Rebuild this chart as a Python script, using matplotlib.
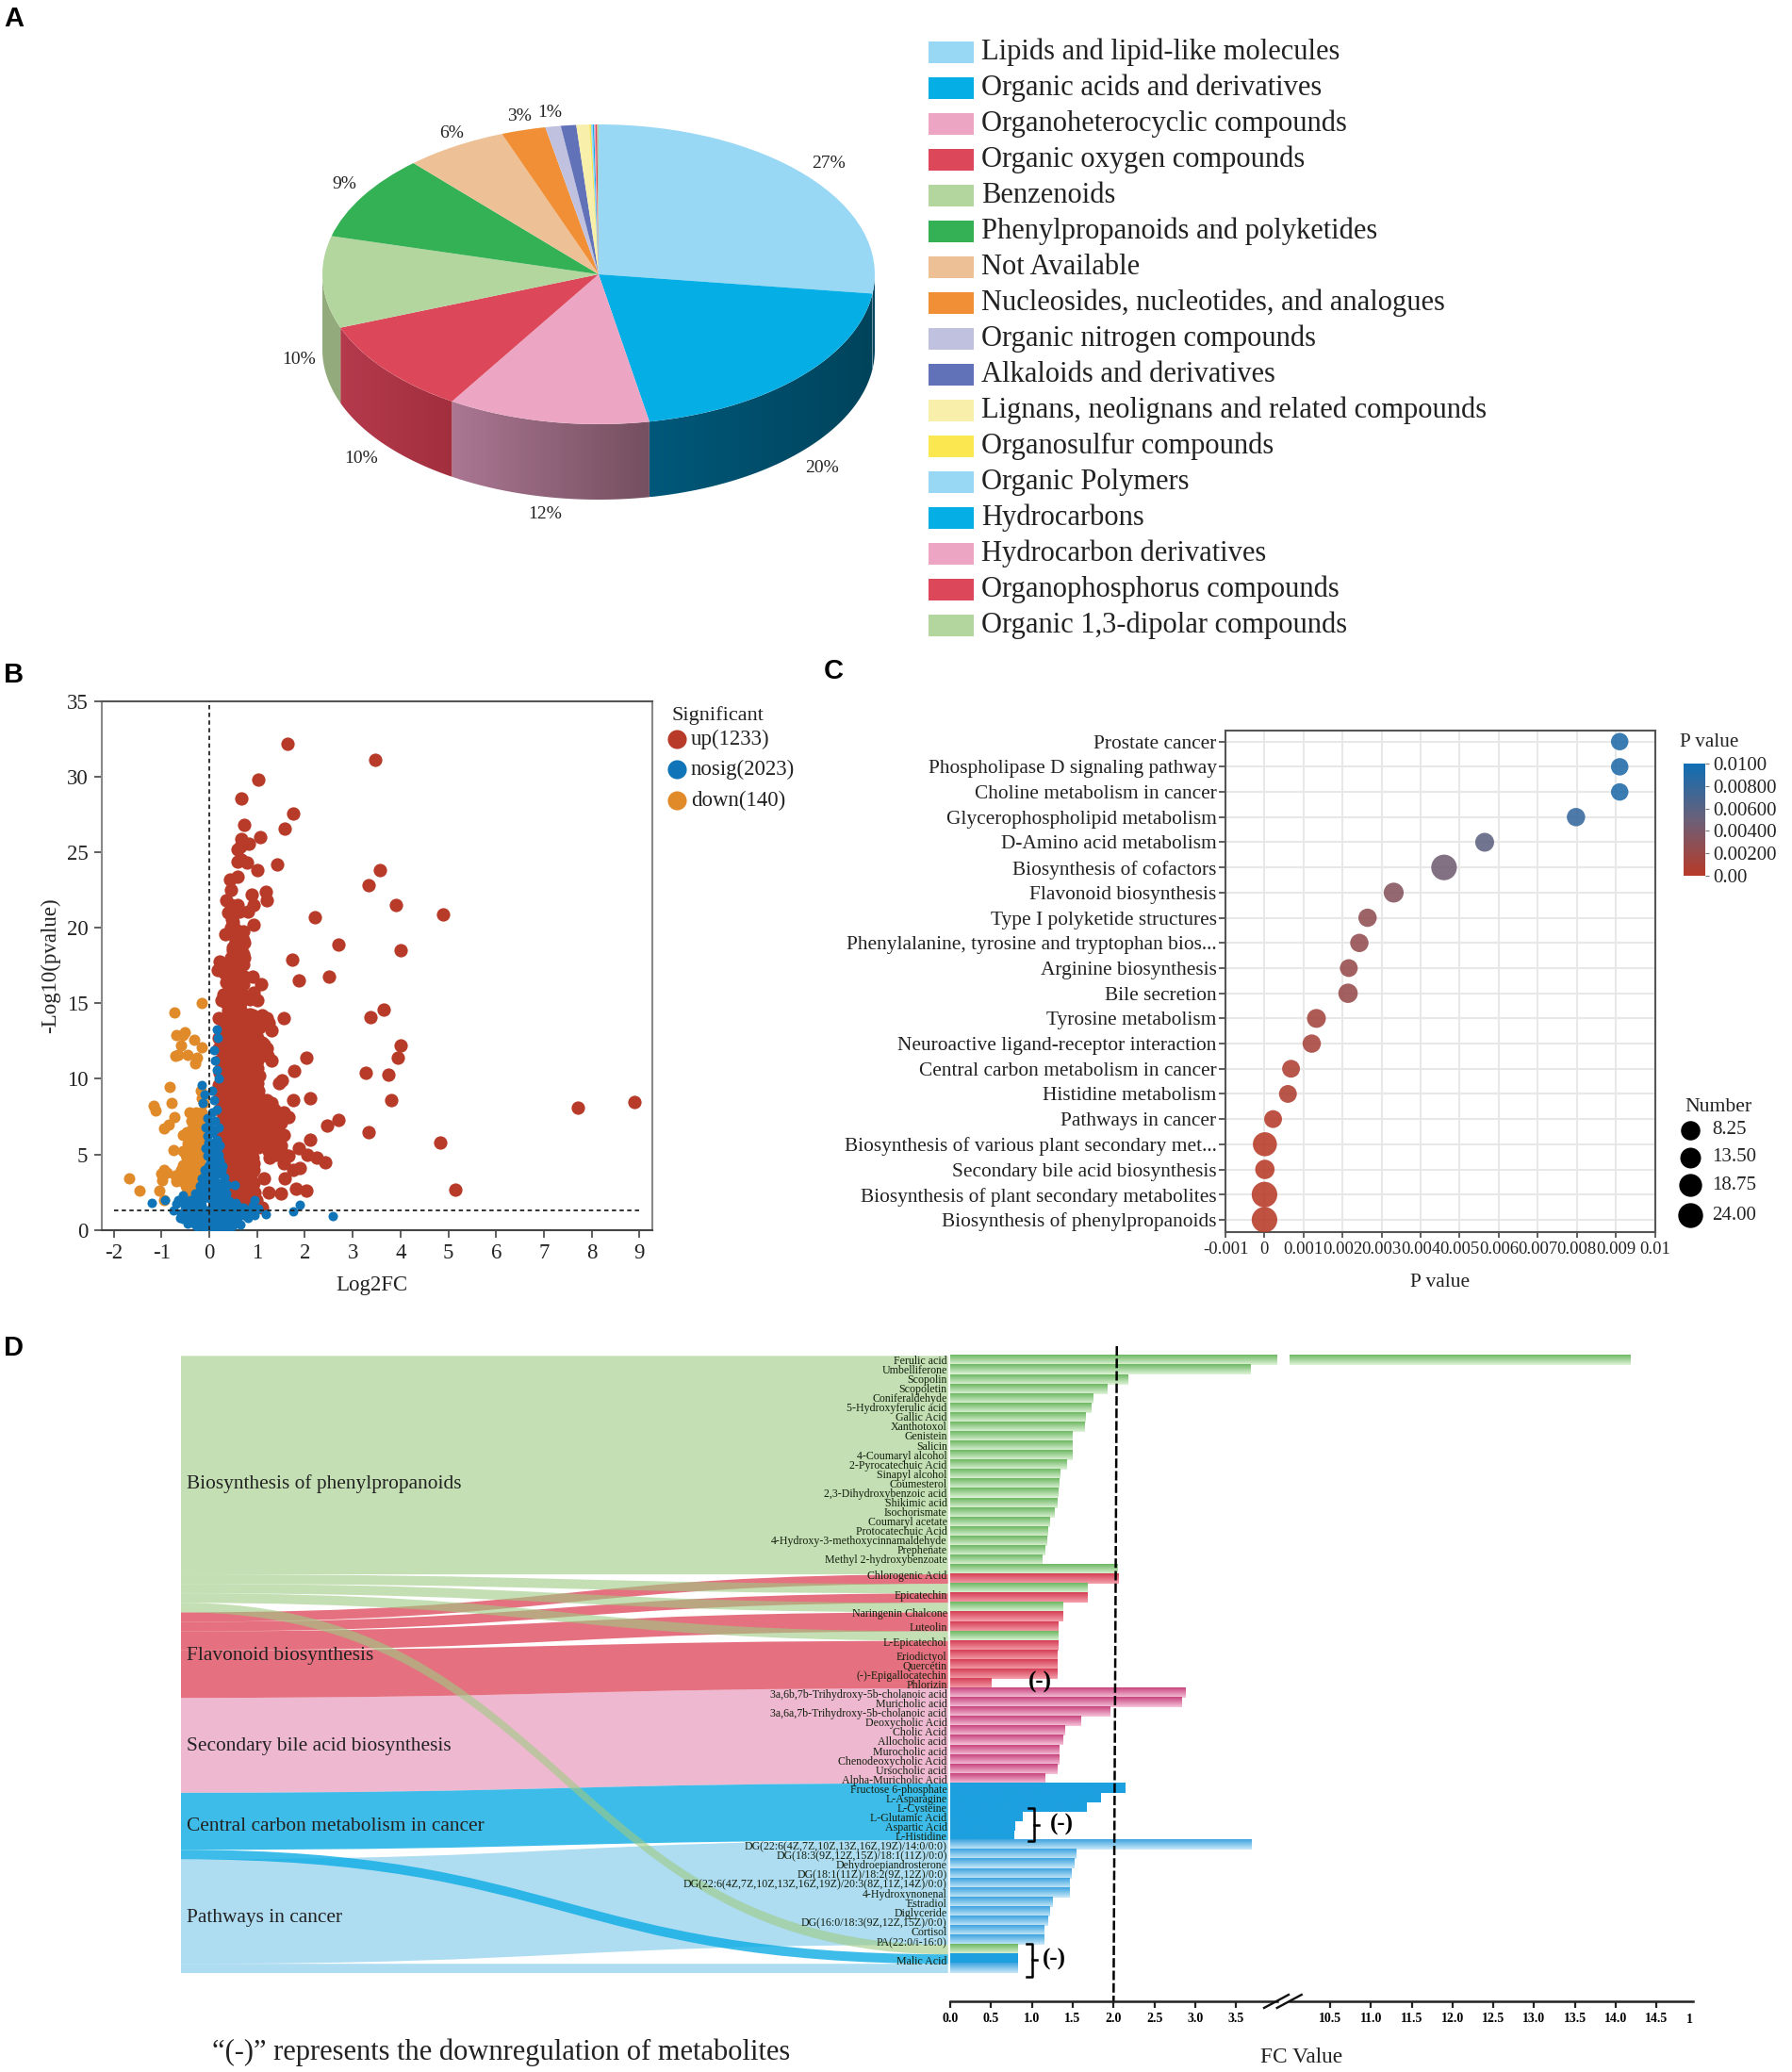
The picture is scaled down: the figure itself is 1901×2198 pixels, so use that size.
import numpy as np
import matplotlib
matplotlib.use('Agg')
import matplotlib.pyplot as plt
from matplotlib.colors import LinearSegmentedColormap, Normalize
from matplotlib.cm import ScalarMappable
from matplotlib.patches import Polygon, PathPatch
from matplotlib.path import Path

plt.rcParams['font.family'] = ['Liberation Serif', 'DejaVu Serif']
plt.rcParams['axes.unicode_minus'] = False

W, H = 1901, 2198

# A - pie
classes = ['Lipids and lipid-like molecules', 'Organic acids and derivatives', 'Organoheterocyclic compounds',
           'Organic oxygen compounds', 'Benzenoids', 'Phenylpropanoids and polyketides', 'Not Available',
           'Nucleosides, nucleotides, and analogues', 'Organic nitrogen compounds', 'Alkaloids and derivatives',
           'Lignans, neolignans and related compounds', 'Organosulfur compounds', 'Organic Polymers',
           'Hydrocarbons', 'Hydrocarbon derivatives', 'Organophosphorus compounds', 'Organic 1,3-dipolar compounds']
class_pct = [27.05, 20.0, 11.85, 10.3, 9.9, 9.2, 6.0, 2.6, 0.9, 0.9, 0.75, 0.1, 0.1, 0.08, 0.08, 0.1, 0.08]
class_colors = ['#99d8f4', '#05aee5', '#eca5c3', '#dc4759', '#b3d69f', '#35b155', '#eec095', '#f08f36', '#bfc1df',
                '#6272b8', '#f8efaa', '#fbe74f', '#99d8f4', '#05aee5', '#eca5c3', '#dc4759', '#b3d69f']
side_left = ['#00455f', '#00587a', '#aa7692', '#b43a4c', '#93ab7c']
side_right = ['#00455f', '#00445c', '#755060', '#a22f3e', '#93ab7c']
pie_labels = ['27%', '20%', '12%', '10%', '10%', '9%', '6%', '3%', '1%']

# B - volcano
up_x = [1.64, 3.47, 1.02, 0.66, 1.76, 0.73, 1.57, 1.07, 0.66, 0.83, 0.64, 0.6, 0.6, 0.66, 0.78, 1.42, 1.0, 3.57, 0.6, 0.44,
        0.46, 1.18, 3.33, 0.88, 1.2, 0.36, 0.45, 0.6, 0.93, 3.9, 0.4, 0.63, 0.8, 2.2, 4.9, 0.5, 0.45, 0.92, 0.33, 0.65,
        0.55, 0.72, 2.7, 0.5, 4.0, 0.6, 0.7, 0.55, 1.74, 0.22, 0.7, 0.3, 0.6, 0.18, 0.45, 0.9, 2.5, 0.55, 1.87, 0.35,
        0.7, 1.08, 0.6, 0.5, 0.92, 0.3, 0.72, 0.85, 0.25, 1.0, 0.55,
        0.9, 1.1, 0.5, 0.2, 0.35, 0.6, 0.78, 1.55, 1.0, 1.2, 0.45, 0.7, 0.95, 1.25, 0.3, 0.55, 0.8, 1.05,
        0.25, 0.5, 0.68, 0.9, 1.3, 0.2, 0.4, 0.62, 0.85, 0.27, 0.5, 0.72, 0.95, 1.15, 0.2, 0.42, 0.6, 0.82, 1.05, 1.2,
        0.3, 0.52, 0.75, 0.95, 1.18, 0.22, 0.45, 0.65, 0.88, 1.3, 2.03, 0.3, 0.55, 0.72, 0.95,
        0.22, 0.42, 0.62, 0.85, 1.78, 0.3, 0.5, 0.72, 0.92, 1.05, 0.2, 0.42, 0.62, 0.8, 1.45, 1.52,
        0.3, 0.52, 0.72, 0.9, 0.22, 0.42, 0.62, 0.85, 1.05, 0.3, 0.52, 0.72, 0.95, 1.3, 1.75, 2.1, 3.8,
        0.22, 0.42, 0.62, 0.85, 1.05, 1.25, 1.35, 0.3, 0.52, 0.72, 0.95, 1.15, 1.4, 1.55,
        0.25, 0.45, 0.65, 0.88, 1.1, 1.3, 1.65, 2.7, 0.32, 0.52, 0.75, 0.95, 1.2, 1.4, 2.47,
        0.25, 0.45, 0.65, 0.85, 1.05, 1.3, 1.55, 3.33, 0.32, 0.52, 0.72, 0.92, 1.15, 1.4, 2.1,
        0.28, 0.48, 0.68, 0.9, 1.25, 1.5, 4.83, 0.32, 0.52, 0.72, 0.88, 1.25, 1.5, 1.87,
        0.35, 0.55, 0.75, 0.9, 1.27, 1.65, 2.05, 2.25, 2.43, 0.38, 0.58, 0.78, 0.92, 1.55,
        0.4, 0.6, 0.8, 0.92, 1.75, 1.9, 0.42, 0.62, 0.82, 1.15, 1.58,
        0.45, 0.65, 0.85, 0.5, 0.7, 0.9, 1.25, 1.5, 1.82, 2.03, 5.15, 0.6, 0.8, 0.98, 1.1,
        7.72, 8.9, 3.65, 3.38, 4.0, 3.95, 3.27, 3.75,
        0.35, 0.5, 0.65, 0.4, 0.6, 0.42, 0.55, 0.4, 0.5, 0.62, 0.72, 0.32, 0.38, 0.5, 0.62, 0.45, 0.6, 0.72, 0.5, 0.66,
        0.55, 0.7, 0.62, 0.55, 0.48, 0.7,
        0.4, 0.65, 0.85, 0.33, 0.58, 0.83, 0.38, 0.6, 0.78, 1.0, 0.33, 0.58, 0.82, 1.1, 0.36, 0.62, 0.85, 0.35, 0.58, 0.78,
        1.0, 1.22, 0.38, 0.55, 0.78, 1.0, 0.35, 0.6, 0.82, 1.0, 0.38, 0.62, 0.82, 1.03, 0.33, 0.52, 0.75, 0.95, 1.2, 0.35,
        0.55, 0.75, 0.95, 1.15, 0.4, 0.62, 0.85, 1.05, 1.3, 1.5, 0.37, 0.58, 0.8, 1.0, 1.25, 1.5, 0.35, 0.55, 0.75, 0.95,
        1.18, 1.45, 0.38, 0.6, 0.8, 1.0, 1.3, 0.38, 0.6, 0.8, 1.02, 1.4, 0.45, 0.65, 0.85, 1.4, 0.47, 0.68, 0.85, 0.5, 0.7,
        0.88, 0.52, 0.72, 0.92, 0.55, 0.75, 0.95, 0.7, 0.9, 1.0]
up_y = [32.2, 31.1, 29.8, 28.6, 27.6, 26.8, 26.6, 26.0, 25.9, 25.6, 25.4, 25.2, 24.4, 24.5, 24.3, 24.2, 23.8, 23.8, 23.4, 23.2,
        22.5, 22.4, 22.8, 22.2, 21.8, 21.8, 21.5, 21.5, 21.5, 21.5, 21.0, 21.1, 21.1, 20.7, 20.9, 20.4, 20.0, 20.2, 19.6, 19.5,
        19.2, 19.0, 18.9, 18.7, 18.5, 18.6, 18.3, 18.1, 17.9, 17.8, 17.6, 17.5, 17.3, 17.2, 17.2, 16.8, 16.8, 16.6, 16.5, 16.4,
        16.3, 16.3, 16.0, 15.8, 15.7, 15.6, 15.5, 15.3, 15.2, 15.2, 15.1,
        14.2, 14.2, 14.3, 14.0, 14.0, 14.0, 14.0, 14.0, 14.0, 14.0, 13.7, 13.7, 13.7, 13.7, 13.4, 13.4, 13.4, 13.4,
        13.1, 13.1, 13.1, 13.1, 13.2, 12.7, 12.7, 12.7, 12.7, 12.3, 12.3, 12.3, 12.3, 12.3, 12.0, 12.0, 12.0, 12.0, 12.0, 12.0,
        11.6, 11.6, 11.6, 11.6, 11.6, 11.2, 11.2, 11.2, 11.2, 11.2, 11.4, 10.8, 10.8, 10.8, 10.8,
        10.4, 10.4, 10.4, 10.4, 10.5, 10.0, 10.0, 10.0, 10.0, 10.2, 9.6, 9.6, 9.6, 9.6, 9.7, 9.9,
        9.2, 9.2, 9.2, 9.2, 8.8, 8.8, 8.8, 8.8, 8.8, 8.4, 8.4, 8.4, 8.4, 8.4, 8.6, 8.7, 8.6,
        8.0, 8.0, 8.0, 8.0, 8.0, 8.1, 8.0, 7.6, 7.6, 7.6, 7.6, 7.6, 7.6, 7.8,
        7.2, 7.2, 7.2, 7.2, 7.2, 7.2, 7.5, 7.3, 6.8, 6.8, 6.8, 6.8, 6.8, 6.8, 6.9,
        6.4, 6.4, 6.4, 6.4, 6.4, 6.4, 6.3, 6.5, 6.0, 6.0, 6.0, 6.0, 6.0, 6.0, 6.0,
        5.6, 5.6, 5.6, 5.6, 5.6, 5.6, 5.8, 5.2, 5.2, 5.2, 5.2, 5.2, 5.3, 5.4,
        4.8, 4.8, 4.8, 4.8, 4.8, 4.9, 5.0, 4.8, 4.5, 4.4, 4.4, 4.4, 4.4, 4.4,
        4.0, 4.0, 4.0, 4.0, 4.0, 4.1, 3.5, 3.5, 3.5, 3.4, 3.4,
        3.0, 3.0, 3.0, 2.6, 2.6, 2.6, 2.5, 2.4, 2.7, 2.6, 2.65, 2.0, 2.0, 2.0, 1.5,
        8.1, 8.45, 14.6, 14.1, 12.2, 11.4, 10.4, 10.3,
        15.0, 15.4, 15.0, 15.8, 15.8, 16.2, 16.2, 16.8, 17.0, 16.9, 16.8, 17.0, 17.5, 17.6, 17.7, 18.0, 18.0, 18.0, 18.5, 18.7,
        19.0, 19.2, 19.6, 19.9, 20.6, 19.8,
        14.5, 14.6, 14.3, 13.9, 13.6, 13.8, 13.0, 12.9, 12.9, 12.7, 12.4, 12.3, 12.5, 12.4, 11.8, 11.7, 11.8, 11.1, 11.0, 11.0,
        11.2, 11.5, 10.5, 10.5, 10.4, 10.7, 9.9, 9.9, 9.9, 9.7, 9.3, 9.4, 9.3, 9.2, 8.7, 8.7, 8.8, 8.7, 8.6, 8.1,
        8.2, 8.1, 8.1, 8.3, 7.5, 7.5, 7.5, 7.5, 7.7, 7.5, 7.0, 7.0, 7.0, 7.0, 7.2, 7.1, 6.6, 6.6, 6.6, 6.6,
        6.5, 6.5, 6.2, 6.2, 6.2, 6.2, 6.0, 5.4, 5.4, 5.4, 5.5, 5.6, 4.9, 5.0, 5.0, 5.0, 4.4, 4.5, 4.5, 3.8, 3.8,
        3.8, 3.2, 3.2, 3.1, 2.4, 2.4, 2.5, 2.0, 1.8, 1.6]
nosig_x = [0.15, 0.18, 0.1, 0.12, 0.15, 0.2, -0.15, -0.1, 0.05, 0.1, 0.15, -0.13, 0.05, -0.05, 0.12, 0.2, -0.08, 0.05, 0.15,
           -0.02, 0.22, 0.08, 0.2, -0.05, 0.02, 0.15, 0.28, -0.1, 0.05, 0.2, 0.32, -0.15, 0.0, 0.12, 0.25, 0.38, 0.54, -0.2,
           -0.05, 0.1, 0.22, 0.35, -0.3, -0.55, -0.18, 0.0, 0.15, 0.28, 0.42, 0.55, -0.65, -0.4, -0.7, -0.52, -0.3, -0.15,
           0.05, 0.2, 0.35, 0.5, 0.7, 0.95, 0.9, 0.78, -0.75, -0.6, -0.4, -0.25, -0.1, 0.05, 0.2, 0.35, 0.5, 0.7, 0.95, 1.18,
           -0.55, -0.35, -0.2, -0.05, 0.1, 0.25, 0.4, 0.55, -0.45, -0.3, -0.15, 0.0, 0.15, 0.3, 0.65, -1.2, -0.92, 1.9, 1.75, 2.58,
           0.0, 0.1, -0.05, 0.1, 0.02, 0.15, -0.08, 0.1, 0.22, -0.02, 0.12, 0.25, -0.08, 0.1, -0.12, 0.03, 0.18, 0.3, -0.22,
           -0.08, 0.06, 0.2, 0.35, -0.3, -0.15, 0.1, 0.25, 0.4, -0.5, -0.4, -0.05, 0.12, 0.28, 0.45, 0.6, -0.5, -0.32, -0.15,
           0.0, 0.15, 0.3, 0.45, 0.6, 0.8, -0.62, -0.42, -0.25, -0.08, 0.08, 0.22, 0.38, 0.5, -0.1, 0.05, 0.2, -0.25, 0.35,
           0.45, 0.1, -0.02, 0.82, 0.65, 1.02, 0.95]
nosig_y = [13.3, 12.7, 11.9, 11.2, 10.6, 10.0, 9.6, 9.0, 9.2, 8.6, 8.0, 8.4, 7.8, 7.4, 7.2, 6.8, 6.8, 6.4, 6.0,
           5.8, 5.6, 5.2, 5.0, 4.9, 4.5, 4.4, 4.2, 4.0, 3.9, 3.7, 3.5, 3.4, 3.3, 3.2, 3.1, 3.0, 3.0, 2.9,
           2.7, 2.6, 2.5, 2.4, 2.4, 2.3, 2.2, 2.1, 2.0, 2.0, 1.9, 1.8, 2.0, 2.0, 1.7, 1.6, 1.6, 1.6,
           1.5, 1.5, 1.4, 1.4, 1.5, 2.0, 1.6, 1.3, 1.3, 1.1, 1.2, 1.1, 1.1, 1.0, 1.0, 0.9, 0.95, 1.0, 0.95, 1.05,
           0.7, 0.7, 0.6, 0.6, 0.55, 0.5, 0.55, 0.6, 0.4, 0.35, 0.3, 0.25, 0.25, 0.3, 0.35, 1.8, 1.95, 1.65, 1.25, 0.9,
           7.0, 6.6, 6.2, 5.8, 5.4, 5.3, 5.4, 4.8, 4.6, 4.2, 4.0, 3.9, 3.7, 3.5, 3.0, 3.0, 2.9, 2.7, 2.5,
           2.4, 2.3, 2.2, 2.1, 2.0, 1.9, 1.8, 1.75, 1.6, 1.9, 1.5, 1.3, 1.25, 1.2, 1.15, 1.1, 1.0, 0.9, 0.85,
           0.8, 0.75, 0.7, 0.75, 0.8, 0.8, 0.8, 0.55, 0.45, 0.4, 0.4, 0.35, 0.35, 0.3, 0.15, 0.1, 0.15, 0.2, 0.15,
           0.2, 0.05, 0.05, 1.1, 1.5, 1.4, 1.2]
down_x = [-0.16, -0.73, -0.7, -0.52, -0.55, -0.32, -0.6, -0.16, -0.72, -0.65, -0.45, -0.25, -0.3, -0.82, -0.18, -0.15, -0.8,
          -0.12, -1.17, -1.12, -0.42, -0.27, -0.15, -0.74, -0.85, -0.32, -0.95, -0.22, -0.55, -0.35, -0.2, -0.48, -0.4, -0.25,
          -0.15, -0.75, -0.55, -0.38, -0.23, -0.12, -0.48, -0.3, -0.18, -0.42, -0.25, -0.95, -0.6, -0.55, -1.0, -0.88, -0.72,
          -0.98, -0.35, -0.2, -0.5, -0.32, -0.65, -1.68, -1.47, -1.05, -0.95, -0.5, -0.3, -0.42, -0.3, -0.42, -0.4, -0.5, -0.28, -0.22,
          -0.3, -0.2, -0.38, -0.28, -0.16, -0.42, -0.32, -0.2, -0.12, -0.45, -0.33, -0.2, -0.5, -0.4, -0.28, -0.15, -0.45, -0.35,
          -0.2, -0.55, -0.48, -0.38, -0.28, -0.42, -0.28, -0.55, -0.42, -0.35, -0.48, -0.38, -0.45, -0.33, -0.7, -0.62, -0.6]
down_y = [15.0, 14.4, 12.9, 13.1, 12.9, 12.6, 12.2, 12.1, 11.5, 11.6, 11.6, 11.4, 11.0, 9.5, 9.2, 8.7, 8.4,
          8.4, 8.2, 7.9, 7.8, 7.8, 7.8, 7.5, 7.0, 7.4, 6.7, 7.2, 6.3, 6.7, 6.6, 6.5, 6.0, 6.0,
          5.9, 5.3, 5.2, 5.4, 5.4, 5.2, 4.8, 4.8, 4.8, 4.3, 4.3, 4.0, 4.0, 3.8, 3.7, 3.8, 3.6,
          3.3, 3.8, 3.8, 3.4, 3.3, 3.5, 3.4, 2.6, 2.6, 2.0, 2.9, 2.7, 2.3, 2.2, 1.7, 1.3, 1.3, 1.7, 3.0,
          7.5, 7.4, 7.2, 7.0, 7.0, 6.3, 6.3, 6.2, 6.4, 5.7, 5.7, 5.7, 5.0, 5.0, 5.1, 5.0, 4.5, 4.5,
          4.5, 4.3, 3.9, 3.9, 3.9, 3.5, 3.4, 3.2, 3.0, 2.6, 2.5, 2.0, 1.5, 1.4, 3.2, 3.8, 3.3]
volcano_xticks = [-2, -1, 0, 1, 2, 3, 4, 5, 6, 7, 8, 9]
volcano_yticks = [0, 5, 10, 15, 20, 25, 30, 35]

# C - bubble
pathways = ['Prostate cancer', 'Phospholipase D signaling pathway', 'Choline metabolism in cancer',
            'Glycerophospholipid metabolism', 'D-Amino acid metabolism', 'Biosynthesis of cofactors',
            'Flavonoid biosynthesis', 'Type I polyketide structures', 'Phenylalanine, tyrosine and tryptophan bios...',
            'Arginine biosynthesis', 'Bile secretion', 'Tyrosine metabolism', 'Neuroactive ligand-receptor interaction',
            'Central carbon metabolism in cancer', 'Histidine metabolism', 'Pathways in cancer',
            'Biosynthesis of various plant secondary met...', 'Secondary bile acid biosynthesis',
            'Biosynthesis of plant secondary metabolites', 'Biosynthesis of phenylpropanoids']
p_values = [0.0091, 0.0091, 0.0091, 0.00798, 0.00564, 0.0046, 0.00331, 0.00264, 0.00243, 0.00216,
            0.00214, 0.00133, 0.00121, 0.00068, 0.0006, 0.00022, 0.00001, 0.00001, 0.0, 0.0]
numbers = [8.25, 8.25, 8.25, 10, 11, 24, 13, 10, 10, 9, 12, 11, 10, 9, 9, 9, 21, 12, 24, 24]
p_ticks = [-0.001, 0, 0.001, 0.002, 0.003, 0.004, 0.005, 0.006, 0.007, 0.008, 0.009, 0.01]
p_ticklabels = ['-0.001', '0', '0.001', '0.002', '0.003', '0.004', '0.005', '0.006', '0.007', '0.008', '0.009', '0.01']
number_legend = [8.25, 13.50, 18.75, 24.00]

# D - sankey and bars
path_names = ['Biosynthesis of phenylpropanoids', 'Flavonoid biosynthesis', 'Secondary bile acid biosynthesis',
              'Central carbon metabolism in cancer', 'Pathways in cancer']
metabolites = ['Ferulic acid', 'Umbelliferone', 'Scopolin', 'Scopoletin', 'Coniferaldehyde', '5-Hydroxyferulic acid',
               'Gallic Acid', 'Xanthotoxol', 'Genistein', 'Salicin', '4-Coumaryl alcohol', '2-Pyrocatechuic Acid',
               'Sinapyl alcohol', 'Coumesterol', '2,3-Dihydroxybenzoic acid', 'Shikimic acid', 'Isochorismate',
               'Coumaryl acetate', 'Protocatechuic Acid', '4-Hydroxy-3-methoxycinnamaldehyde', 'Prephenate',
               'Methyl 2-hydroxybenzoate', '', 'Chlorogenic Acid', '', 'Epicatechin', '', 'Naringenin Chalcone', 'Luteolin',
               '', 'L-Epicatechol', 'Eriodictyol', 'Quercetin', '(-)-Epigallocatechin', 'Phlorizin',
               '3a,6b,7b-Trihydroxy-5b-cholanoic acid', 'Muricholic acid', '3a,6a,7b-Trihydroxy-5b-cholanoic acid',
               'Deoxycholic Acid', 'Cholic Acid', 'Allocholic acid', 'Murocholic acid', 'Chenodeoxycholic Acid',
               'Ursocholic acid', 'Alpha-Muricholic Acid', 'Fructose 6-phosphate', 'L-Asparagine', 'L-Cysteine',
               'L-Glutamic Acid', 'Aspartic Acid', 'L-Histidine', 'DG(22:6(4Z,7Z,10Z,13Z,16Z,19Z)/14:0/0:0)',
               'DG(18:3(9Z,12Z,15Z)/18:1(11Z)/0:0)', 'Dehydroepiandrosterone', 'DG(18:1(11Z)/18:2(9Z,12Z)/0:0)',
               'DG(22:6(4Z,7Z,10Z,13Z,16Z,19Z)/20:3(8Z,11Z,14Z)/0:0)', '4-Hydroxynonenal', 'Estradiol', 'Diglyceride',
               'DG(16:0/18:3(9Z,12Z,15Z)/0:0)', 'Cortisol', '', 'PA(22:0/i-16:0)', 'Malic Acid', '']
fc_values = [14.18, 3.67, 2.18, 1.92, 1.75, 1.72, 1.66, 1.65, 1.50, 1.50, 1.49, 1.43, 1.35, 1.33, 1.32, 1.31, 1.27, 1.22,
             1.19, 1.18, 1.16, 1.13, 2.05, 2.06, 1.68, 1.68, 1.38, 1.38, 1.32, 1.32, 1.32, 1.31, 1.31, 1.31, 0.50,
             2.88, 2.83, 1.96, 1.60, 1.40, 1.38, 1.33, 1.33, 1.31, 1.16, 2.14, 1.84, 1.67, 0.88, 0.79, 0.78,
             3.69, 1.54, 1.52, 1.48, 1.46, 1.46, 1.25, 1.22, 1.19, 1.15, 1.15, 0.82, 0.82, 0.82]
path_of_row = [0] * 22 + [0, 1, 0, 1, 0, 1, 1, 0, 1, 1, 1, 1, 1] + [2] * 10 + [3] * 6 + [4] * 11 + [0, 3, 4]
path_colors = ['#9ecb82', '#d5112a', '#e489b1', '#0cace5', '#78c5e9']
path_alpha = [0.6, 0.6, 0.6, 0.8, 0.6]
bar_top = ['#6fb865', '#d63f56', '#c8467f', '#1da0df', '#3fa4e0']
bar_bottom = ['#dff3d8', '#f3a0ab', '#f6c3da', '#1da0df', '#c8e8f8']
fc_ticks_low = [0.0, 0.5, 1.0, 1.5, 2.0, 2.5, 3.0, 3.5]
fc_ticks_high = [10.5, 11.0, 11.5, 12.0, 12.5, 13.0, 13.5, 14.0, 14.5]

fig = plt.figure(figsize=(W / 100, H / 100), dpi=100, facecolor='white')


def axes_px(left, top, right, bottom, **kw):
    return fig.add_axes([left / W, 1 - bottom / H, (right - left) / W, (bottom - top) / H], **kw)


# pixel layer for free text, legends and annotations
page = axes_px(0, 0, W, H, zorder=10)
page.set_xlim(0, W)
page.set_ylim(H, 0)
page.axis('off')
page.patch.set_alpha(0)

for letter, lx, ly in [('A', 4, 20), ('B', 4, 715.5), ('C', 874, 712.5), ('D', 4, 1430.5)]:
    page.text(lx, ly, letter, fontsize=21, fontweight='bold', family='Liberation Sans', va='center', ha='left')

# --- A
depth = 80 / 159
ax = axes_px(342, 132, 928, 530)
edges = np.cumsum([0] + class_pct) / sum(class_pct) * 2 * np.pi
for i in range(len(side_left)):
    t0, t1 = max(edges[i], np.pi / 2), min(edges[i + 1], 3 * np.pi / 2)
    t = np.linspace(t0, t1, 60)
    xs, ys = np.sin(t), np.cos(t)
    poly = Polygon(np.r_[np.c_[xs, ys], np.c_[xs[::-1], ys[::-1] - depth]], closed=True, transform=ax.transData, fc='none', ec='none')
    ax.add_patch(poly)
    cmap = LinearSegmentedColormap.from_list('side', [side_left[i], side_right[i]])
    im = ax.imshow(np.linspace(0, 1, 64)[None, :], cmap=cmap, aspect='auto',
                   extent=[xs.min(), xs.max(), ys.min() - depth, ys.max()], zorder=1)
    im.set_clip_path(poly)
ax.pie(class_pct, colors=class_colors, startangle=90, counterclock=False, radius=1,
       wedgeprops={'linewidth': 0, 'zorder': 2})
ax.set_aspect('auto')
ax.set_xlim(-1, 1)
ax.set_ylim(-1 - depth, 1)

for lab, lx, ly in zip(pie_labels, [879, 872, 578, 383, 317, 365, 479, 551, 583], [173.5, 496.5, 546, 486.5, 381.5, 195, 142, 124, 119]):
    page.text(lx, ly, lab, fontsize=14, ha='center', va='center', color='#222222')

for i, (name, col) in enumerate(zip(classes, class_colors)):
    ly = 55.4 + i * 38.0
    page.fill_between([985, 1033], ly - 11.5, ly + 11.5, color=col, lw=0)
    page.text(1041, ly, name, fontsize=22, va='center', ha='left', color='#222222')

# --- B
ax = axes_px(108, 744, 692, 1304.7)
ax.scatter(up_x, up_y, s=105, color='#b83a28', lw=0, zorder=2)
ax.scatter(down_x, down_y, s=75, color='#e08a2a', lw=0, zorder=3)
ax.scatter(nosig_x, nosig_y, s=52, color='#0f75b8', lw=0, zorder=4)
ax.plot([0, 0], [0, 35], color='#222222', lw=1.3, ls=(0, (2.5, 2)), zorder=5)
ax.plot([-2, 9], [1.31, 1.31], color='#222222', lw=1.3, ls=(0, (2.5, 2)), zorder=5)
ax.set_xlim(-2.25, 9.27)
ax.set_ylim(0, 35)
ax.set_xticks(volcano_xticks)
ax.set_yticks(volcano_yticks)
ax.tick_params(labelsize=16.5, length=5.5, width=1.2, color='#444444', labelcolor='#222222', pad=5)
ax.spines['top'].set_color('#555555')
ax.spines['bottom'].set_color('#444444')
ax.spines['left'].set_color('#888888')
ax.spines['right'].set_color('#888888')
for s in ax.spines.values():
    s.set_linewidth(1.5)
ax.set_xlabel('Log2FC', fontsize=16.5, labelpad=9, color='#222222', x=0.49)
ax.set_ylabel('-Log10(pvalue)', fontsize=16.5, labelpad=5, color='#222222')

page.text(713, 759, 'Significant', fontsize=16, va='center', color='#222222')
for lab, col, ly in zip(['up(1233)', 'nosig(2023)', 'down(140)'], ['#b83a28', '#0f75b8', '#e08a2a'], [784, 816, 849]):
    page.scatter([718], [ly], s=210, color=col, lw=0)
    page.text(733, ly, lab, fontsize=16.5, va='center', color='#222222')

# --- C
cmap_p = LinearSegmentedColormap.from_list('p', ['#b83a28', '#6b6078', '#0f6eb4'])
norm_p = Normalize(0, 0.01)
ax = axes_px(1300, 774.7, 1755.5, 1307)
yy = np.arange(len(pathways))[::-1]
diam = 18.5 + (np.array(numbers) - 8.25) * 0.55
ax.scatter(p_values, yy, s=(diam * 0.72) ** 2, c=p_values, cmap=cmap_p, norm=norm_p, alpha=0.88, lw=0, zorder=3)
ax.set_xlim(-0.001, 0.01)
ax.set_ylim(-0.49, len(pathways) - 1 + 0.45)
ax.set_xticks(p_ticks)
ax.set_xticklabels(p_ticklabels)
ax.set_yticks(yy)
ax.set_yticklabels(pathways)
ax.grid(True, color='#e8e8e8', lw=1.5, zorder=0)
ax.set_axisbelow(True)
ax.tick_params(axis='y', labelsize=15.4, length=4.8, width=1.2, color='#444444', labelcolor='#222222', pad=2)
ax.tick_params(axis='x', labelsize=13.4, length=4, width=1.2, color='#444444', labelcolor='#222222')
for s in ax.spines.values():
    s.set_color('#555555')
    s.set_linewidth(1.5)
ax.set_xlabel('P value', fontsize=15.5, labelpad=12, color='#222222')

page.text(1781.7, 787, 'P value', fontsize=15.2, va='center', color='#222222')
cax = axes_px(1786, 810, 1809.3, 929)
cb = fig.colorbar(ScalarMappable(norm=norm_p, cmap=cmap_p), cax=cax)
cb.set_ticks([0, 0.002, 0.004, 0.006, 0.008, 0.01])
cb.set_ticklabels(['0.00', '0.00200', '0.00400', '0.00600', '0.00800', '0.0100'])
cb.ax.tick_params(labelsize=15, length=3, color='#777777', pad=3, labelcolor='#222222')
cb.outline.set_visible(False)

page.text(1787, 1174.5, 'Number', fontsize=15.6, va='center', color='#222222')
for n, ly, d in zip(number_legend, [1198.7, 1227.8, 1257, 1289.4], [20.5, 22, 24.3, 26.4]):
    page.scatter([1793.2], [ly], s=(d * 0.72) ** 2, color='black', lw=0)
    page.text(1816.5, ly, '%.2f' % n, fontsize=15, va='center', color='#222222')

# --- D sankey
n_rows = len(metabolites)
rows_top, rows_bottom = 1438.3, 2093.3
row_h = (rows_bottom - rows_top) / n_rows
flow = axes_px(192, rows_top, 1005.7, rows_bottom)
flow.set_xlim(0, 1)
flow.set_ylim(n_rows, 0)
flow.axis('off')

source_start = {}
pos = 0
for g in range(len(path_names)):
    source_start[g] = pos
    pos += path_of_row.count(g)


def ribbon(s0, s1, t0, t1):
    verts = [(0, s0), (0.5, s0), (0.5, t0), (1, t0), (1, t1), (0.5, t1), (0.5, s1), (0, s1), (0, s0)]
    codes = [Path.MOVETO, Path.CURVE4, Path.CURVE4, Path.CURVE4, Path.LINETO, Path.CURVE4, Path.CURVE4, Path.CURVE4, Path.CLOSEPOLY]
    return Path(verts, codes)


for z, g in enumerate([4, 2, 1, 3, 0]):
    rows = [r for r, p in enumerate(path_of_row) if p == g]
    s = source_start[g]
    i = 0
    while i < len(rows):
        j = i
        while j + 1 < len(rows) and rows[j + 1] == rows[j] + 1:
            j += 1
        flow.add_patch(PathPatch(ribbon(s + i, s + j + 1, rows[i], rows[j] + 1), fc=path_colors[g], ec='none',
                                 alpha=path_alpha[g], zorder=z + 1))
        i = j + 1

for name, ly in zip(path_names, [1574.5, 1757, 1852, 1937.6, 2034]):
    page.text(198, ly, name, fontsize=15.4, va='center', color='#222222')

label_shift = {'Chlorogenic Acid': -0.3, 'Epicatechin': -0.25, 'Naringenin Chalcone': -0.3, 'Luteolin': 0.1,
               'L-Epicatechol': -0.3, 'PA(22:0/i-16:0)': 0.3 - 1.0, 'Malic Acid': 0.3}
for r, name in enumerate(metabolites):
    if not name:
        continue
    if r < 22:
        shift = 0.05
    else:
        shift = label_shift.get(name, 0.2)
    page.text(1004.7, rows_top + (r + 0.5 + shift) * row_h, name, fontsize=8.6, ha='right', va='center', color='#14200f')

# --- D bars, broken axis
bars_top, bars_bottom = 1428, 2122.7
ylim = (n_rows + (bars_bottom - rows_bottom) / row_h, -(rows_top - bars_top) / row_h)
low = axes_px(1008, bars_top, 1354.6, bars_bottom)
high = axes_px(1368, bars_top, 1796, bars_bottom)
grad = np.linspace(0, 1, 32)[:, None]
for r, (fc, g) in enumerate(zip(fc_values, path_of_row)):
    cmap = LinearSegmentedColormap.from_list('bar', [bar_top[g], bar_bottom[g]])
    low.imshow(grad, cmap=cmap, aspect='auto', extent=[0, fc, r + 1, r])
    if fc > 10:
        high.imshow(grad, cmap=cmap, aspect='auto', extent=[0, fc, r + 1, r])
low.set_xlim(0, 4)
high.set_xlim(10, 14.95)
for a in (low, high):
    a.set_ylim(*ylim)
    a.set_yticks([])
    a.patch.set_alpha(0)
    for side in ('top', 'left', 'right'):
        a.spines[side].set_visible(False)
    a.spines['bottom'].set_linewidth(1.8)
    a.spines['bottom'].set_color('#222222')
    a.tick_params(axis='x', length=5, width=1.6, color='#222222', pad=3.8)
low.set_xticks(fc_ticks_low)
low.set_xticklabels(['%.1f' % v for v in fc_ticks_low], fontsize=10, fontweight='bold')
high.set_xticks(fc_ticks_high)
high.set_xticklabels(['%.1f' % v for v in fc_ticks_high], fontsize=10, fontweight='bold')
low.plot([2.04, 2.0], [ylim[1], ylim[0]], color='black', lw=1.8, ls=(0, (4, 1.3)), zorder=6)

page.text(1792.5, 2142, '1', fontsize=10, fontweight='bold', ha='center', va='center')
for bx in (1341, 1354.7):
    page.plot([bx, bx + 26], [2130, 2116], color='#111111', lw=1.7)

for (tx, ty) in [(1103, 1784), (1126.4, 1935), (1118.8, 2078)]:
    page.text(tx, ty, '(-)', fontsize=18, fontweight='bold', ha='center', va='center')
for bx, y0, y1 in [(1097, 1918, 1953), (1095.4, 2061.7, 2096.7)]:
    page.plot([bx - 6, bx, bx, bx - 6], [y0, y0, y1, y1], color='black', lw=1.8)
    page.plot([bx, bx + 5], [(y0 + y1) / 2] * 2, color='black', lw=1.8)

page.text(1381, 2182.5, 'FC Value', fontsize=16.8, ha='center', va='center', color='#222222')
page.text(225, 2177, '\u201c(-)\u201d represents the downregulation of metabolites', fontsize=22, va='center', color='#222222')

fig.savefig('out.png', dpi=100)
